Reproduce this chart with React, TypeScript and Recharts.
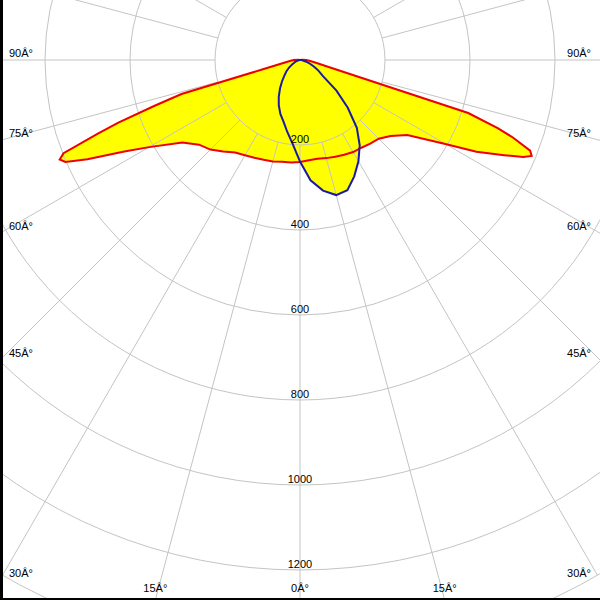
import React from 'react';
import { RadarChart, Radar, PolarGrid, PolarAngleAxis, PolarRadiusAxis } from 'recharts';

// gamma: degrees from nadir, negative = left half (C180), positive = right half (C0)
const ANGLES = [
  -180, -150, -120, -100, -95, -90, -85, -80, -76, -74, -72.5, -71, -70, -68.5, -67.5,
  -66.5, -65, -62.5, -60, -55, -50, -45, -40, -35, -30, -25, -20, -15, -10, -5, 0,
  5, 10, 15, 20, 25, 30, 35, 40, 45, 50, 55, 60, 62.5, 65, 66.5, 67.5, 68.5, 70, 71,
  72.5, 74, 76, 80, 85, 90, 95, 100, 120, 150,
];

// cd values, C0-C180 plane (red, filled)
const C0_C180 = [
  0, 0, 0, 0, 5, 15, 22, 38, 90, 290, 360, 452, 505, 598, 612,
  602, 552, 466, 410, 338, 310, 298, 281, 266, 259, 254, 250, 247, 243, 242, 240,
  237, 236, 239, 242, 246, 250, 252, 257, 262, 278, 308, 395, 468, 530, 573, 590, 582, 533, 492,
  415, 137, 75, 38, 22, 15, 5, 0, 0, 0,
];

// cd values, C90-C270 plane (blue)
const C90_C270 = [
  0, 0, 0, 0, 0, 0, 1, 3, 5, 7, 8, 9, 10, 12, 13,
  14, 15, 18, 22, 32, 42, 52, 66, 82, 100, 118, 135, 150, 172, 198, 239,
  284, 312, 329, 326, 302, 275, 245, 208, 159, 112, 66, 50, 42, 35, 31, 29, 27, 24, 22,
  19, 16, 12, 7, 3, 0, 0, 0, 0, 0,
];

const GRID_ANGLES = [
  -180, -165, -150, -135, -120, -105, -90, -75, -60, -45, -30, -15,
  0, 15, 30, 45, 60, 75, 90, 105, 120, 135, 150, 165,
];
const RING_TICKS = [200, 400, 600, 800, 1000, 1200, 1400];
const RING_LABELS = [200, 400, 600, 800, 1000, 1200];
const ANGLE_LABELS = [-90, -75, -60, -45, -30, -15, 0, 15, 30, 45, 60, 75, 90];

const W = 600;
const H = 600;
const CX = 300;
const CY = 60;

const rows = ANGLES.map((angle, i) => ({ angle, c0: C0_C180[i], c90: C90_C270[i] }));

const font = { fontFamily: '"Liberation Sans", Arial, sans-serif', fontSize: 11 };

function RingTick(props: any) {
  const { x, y, payload } = props;
  if (!RING_LABELS.includes(payload.value)) return <g />;
  return (
    <text x={x} y={y - 2} textAnchor="middle" fill="#000" style={font}>
      {payload.value}
    </text>
  );
}

function AngleTick(props: any) {
  const v = props.payload.value;
  if (!ANGLE_LABELS.includes(v)) return <g />;
  const rad = (v * Math.PI) / 180;
  const sx = Math.sin(rad);
  const cy = Math.cos(rad);
  const tSide = Math.abs(sx) > 1e-6 ? (sx < 0 ? CX : W - CX) / Math.abs(sx) : Infinity;
  const tBottom = cy > 1e-6 ? (H - CY) / cy : Infinity;
  const label = `${Math.abs(v)}Â°`;
  if (tSide < tBottom) {
    const yHit = CY + tSide * cy;
    return sx < 0 ? (
      <text x={9} y={yHit - 3} textAnchor="start" fill="#000" style={font}>{label}</text>
    ) : (
      <text x={W - 9} y={yHit - 3} textAnchor="end" fill="#000" style={font}>{label}</text>
    );
  }
  const xHit = CX + tBottom * sx;
  return (
    <text x={xHit} y={H - 8} textAnchor="middle" fill="#000" style={font}>{label}</text>
  );
}

export default function App() {
  return (
    <div style={{ position: 'absolute', left: 0, top: 0, width: W, height: H, background: '#fff', overflow: 'hidden' }}>
      <RadarChart
        width={W}
        height={H}
        data={rows}
        cx={CX}
        cy={CY}
        innerRadius={85}
        outerRadius={595}
        startAngle={-270}
        endAngle={90}
        margin={{ top: 0, right: 0, bottom: 0, left: 0 }}
      >
        <Radar dataKey="c90" fill="#ffff00" fillOpacity={1} stroke="none" isAnimationActive={false} zIndex={100} />
        <Radar dataKey="c0" fill="#ffff00" fillOpacity={1} stroke="none" isAnimationActive={false} zIndex={101} />
        <PolarGrid gridType="circle" stroke="#c4c4c4" zIndex={150} />
        <Radar dataKey="c0" fill="none" stroke="#ee0000" strokeWidth={2} isAnimationActive={false} zIndex={200} />
        <Radar dataKey="c90" fill="none" stroke="#1a1aa6" strokeWidth={2} isAnimationActive={false} zIndex={201} />
        <PolarAngleAxis
          dataKey="angle"
          type="number"
          domain={[-180, 180]}
          ticks={GRID_ANGLES}
          axisLine={false}
          tickLine={false}
          tick={AngleTick}
        />
        <PolarRadiusAxis
          angle={-90}
          type="number"
          domain={[200, 1400]}
          ticks={RING_TICKS}
          allowDataOverflow
          axisLine={false}
          tickLine={false}
          tick={RingTick}
        />
      </RadarChart>
      <div style={{ position: 'absolute', left: 0, top: 0, width: 3, height: H, background: '#000' }} />
      <div style={{ position: 'absolute', left: 0, bottom: 0, width: W, height: 2, background: '#000' }} />
    </div>
  );
}
